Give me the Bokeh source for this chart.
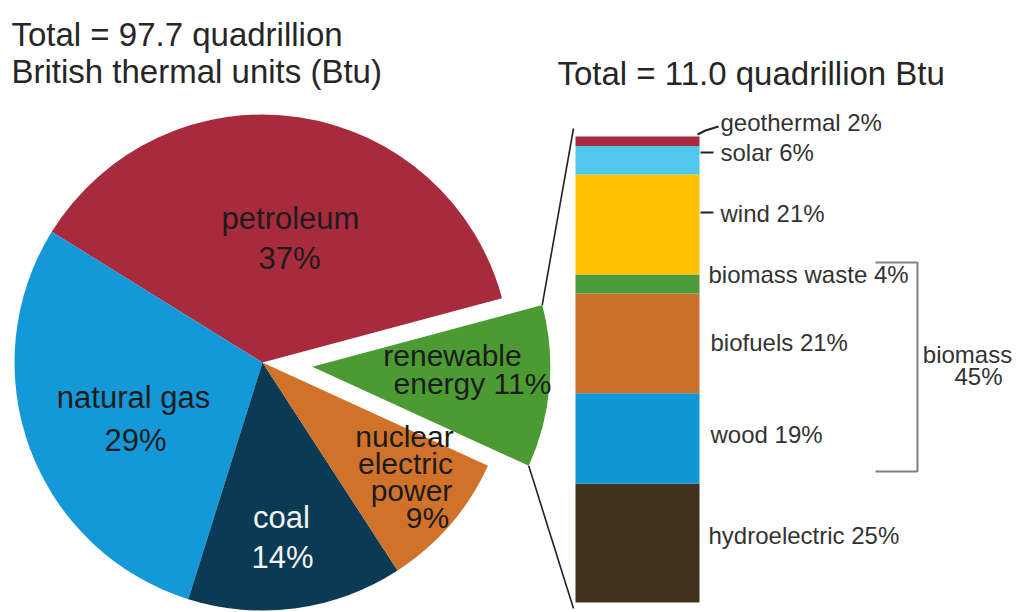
import math
from bokeh.plotting import figure
from bokeh.models import Range1d
from bokeh.core.properties import value
from bokeh.embed import file_html
from bokeh.resources import INLINE

# ---------------- data ----------------
total_all = 97.7
total_renew = 11.0

pie_names = ["petroleum", "natural gas", "coal", "nuclear electric power", "renewable energy"]
pie_shares = [37, 29, 14, 9, 11]
pie_colors = ["#A82A3D", "#1498D8", "#0B3A55", "#D1722B", "#4B9B32"]

bar_names = ["hydroelectric", "wood", "biofuels", "biomass waste", "wind", "solar", "geothermal"]
bar_shares = [25, 19, 21, 4, 21, 6, 2]
bar_colors = ["#3F331D", "#0E97D5", "#CB712C", "#4C9A3A", "#FDC100", "#52C7EC", "#A82A3D"]
biomass_share = 45

FONT = value("Liberation Sans")

# ---------------- figure (1 data unit = 1 px) ----------------
W, H = 1018, 612
def Y(img_y):
    return H - img_y

bar_base_img = 602.0
bar_height_img = 466.0
k = bar_height_img / sum(bar_shares)
bar_offset = H - bar_base_img  # data y of value 0

p = figure(width=W, height=H, x_range=Range1d(0, W), y_range=Range1d(0, H),
           output_backend="svg", toolbar_location=None, min_border=0,
           x_axis_location=None, y_axis_location=None)
p.grid.visible = False
p.outline_line_color = None
p.background_fill_color = "white"
p.extra_y_ranges = {"bar": Range1d((0 - bar_offset) / k, (H - bar_offset) / k)}

def bar_img_y(v):
    return bar_base_img - v * k

# ---------------- pie ----------------
cx, cy, R = 262, Y(362), 248
base_deg = 15.0
starts, ends = [], []
acc = base_deg
for s in pie_shares:
    starts.append(acc)
    acc += s / sum(pie_shares) * 360
    ends.append(acc)

explode = 50
R_ren = 238
for i, name in enumerate(pie_names):
    a0, a1 = math.radians(starts[i]), math.radians(ends[i])
    x0, y0, r = cx, cy, R
    if name == "renewable energy":
        mid = (a0 + a1) / 2
        x0 += explode * math.cos(mid)
        y0 += explode * math.sin(mid)
        r = R_ren
        ren = (x0, y0, r, a0, a1)
    p.wedge(x=x0, y=y0, radius=r, start_angle=a0, end_angle=a1,
            direction="anticlock", fill_color=pie_colors[i], line_color=None)

# ---------------- stacked bar ----------------
bar_left, bar_right = 575, 699
bottoms, tops = [], []
acc = 0
for s in bar_shares:
    bottoms.append(acc)
    acc += s
    tops.append(acc)
p.quad(left=bar_left, right=bar_right, bottom=bottoms, top=tops,
       fill_color=bar_colors, line_color=None, y_range_name="bar")

# connector lines wedge -> bar
rx, ry, rr, ra0, ra1 = ren
up = (rx + rr * math.cos(ra1), ry + rr * math.sin(ra1))
lo = (rx + rr * math.cos(ra0), ry + rr * math.sin(ra0))
bar_top_img = bar_img_y(sum(bar_shares))
p.line([up[0], bar_left - 2], [up[1], Y(bar_top_img - 8)], line_color="#222222", line_width=1.6)
p.line([lo[0], bar_left - 2], [lo[1], Y(bar_base_img + 6)], line_color="#222222", line_width=1.6)

# label leader ticks
p.line([bar_right - 2, 705, 718], [Y(134), Y(130), Y(126)], line_color="#222222", line_width=2)
p.line([bar_right + 1, 713], [Y(152), Y(152)], line_color="#222222", line_width=2.2)
p.line([bar_right + 1, 713], [Y(212), Y(212)], line_color="#222222", line_width=2)

# biomass bracket
ib = bar_names.index("wood")
iw = bar_names.index("biomass waste")
br_top = Y(bar_img_y(tops[iw]) - 12)
br_bot = Y(bar_img_y(bottoms[ib]) - 12)
p.line([875, 917, 917, 875], [br_top, br_top, br_bot, br_bot], line_color="#808080", line_width=2)

# ---------------- texts ----------------
def txt(x, y, s, size, color="#262626", align="left"):
    p.text(x=[x], y=[Y(y)], text=[s], text_font=FONT, text_font_size=size,
           text_color=color, text_align=align, text_baseline="middle")

txt(11, 34, f"Total = {total_all} quadrillion", "33px")
txt(11, 71, "British thermal units (Btu)", "33px")
txt(557, 73, f"Total = {total_renew} quadrillion Btu", "33px")

dark = "#1c1c1c"
pct = [f"{s}%" for s in pie_shares]
txt(290, 218, pie_names[0], "31px", dark, "center")
txt(289, 258, pct[0], "31px", dark, "center")
txt(133, 397, pie_names[1], "31px", dark, "center")
txt(135, 440, pct[1], "31px", dark, "center")
txt(281, 517, pie_names[2], "31px", "#F4F4F4", "center")
txt(282, 557, pct[2], "31px", "#F4F4F4", "center")
nuc = pie_names[3].split(" ")
txt(404, 436, nuc[0], "30px", dark, "center")
txt(405, 463, nuc[1], "30px", dark, "center")
txt(411, 490, nuc[2], "30px", dark, "center")
txt(427, 517, pct[3], "30px", dark, "center")
ren_words = pie_names[4].split(" ")
txt(452, 355, ren_words[0], "30px", dark, "center")
txt(472, 383, f"{ren_words[1]} {pct[4]}", "30px", dark, "center")

lab = "#333333"
bar_label_pos = {"geothermal": (720, 122), "solar": (720, 152), "wind": (720, 213),
                 "biomass waste": (708, 274), "biofuels": (710, 342),
                 "wood": (710, 434), "hydroelectric": (708, 535)}
for n, s in zip(bar_names, bar_shares):
    x, y = bar_label_pos[n]
    txt(x, y, f"{n} {s}%", "24px", lab)

txt(967, 354, "biomass", "24px", lab, "center")
txt(978, 376, f"{biomass_share}%", "24px", lab, "center")

open("out.html", "w").write(file_html(p, INLINE))
